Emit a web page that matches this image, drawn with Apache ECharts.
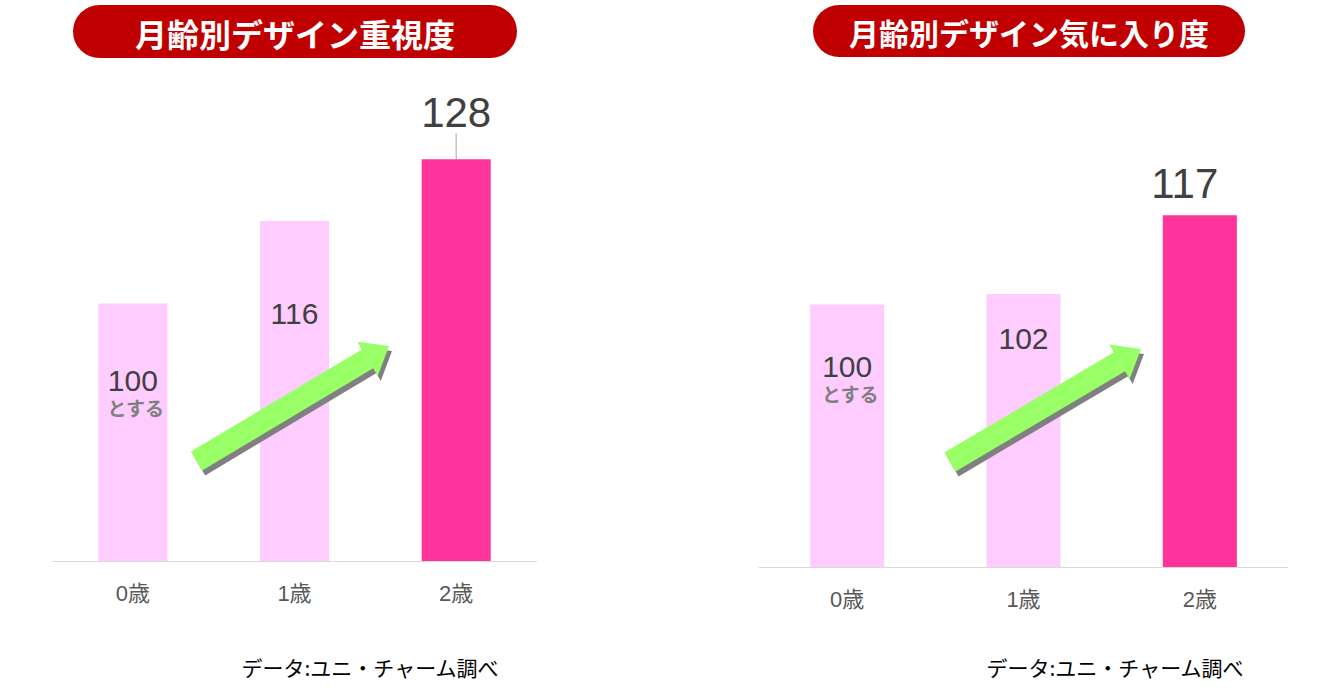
<!DOCTYPE html>
<html>
<head>
<meta charset="utf-8">
<style>
  html, body { margin: 0; padding: 0; background: #ffffff; }
  #chart { width: 1327px; height: 694px; }
</style>
<script src="https://cdn.jsdelivr.net/npm/echarts@6/dist/echarts.min.js"></script>
</head>
<body>
<div id="chart"></div>
<script>
// Age groups and index values (0歳 = 100)
const categories = ['0歳', '1歳', '2歳'];
const importanceValues = [100, 116, 128];   // デザイン重視度
const favorValues = [100, 102, 117];        // デザイン気に入り度
const titles = ['月齢別デザイン重視度', '月齢別デザイン気に入り度'];
const baseNote = 'とする';
const sourceNote = 'データ:ユニ・チャーム調べ';

const LIGHT = '#ffccff';
const HOT = '#ff3399';
const NUM_FONT = '"Liberation Sans", Arial, "Noto Sans CJK JP", sans-serif';
const JP_FONT = '"Noto Sans CJK JP", "Liberation Sans", sans-serif';

const barColors = [LIGHT, LIGHT, HOT];

const chart = echarts.init(document.getElementById('chart'), null, { renderer: 'svg' });

const rich = {
  v: { fontSize: 30, lineHeight: 30, color: '#404040', fontFamily: NUM_FONT },
  s: { fontSize: 19, lineHeight: 24, color: '#808080', fontWeight: 'bold', fontFamily: JP_FONT, padding: [0, 0, 0, 6] },
  big: { fontSize: 42, lineHeight: 40, color: '#404040', fontFamily: NUM_FONT }
};

// label placement per bar: position, inset/distance, horizontal shift
function buildData(values, placement) {
  return values.map((v, i) => {
    const p = placement[i];
    let fmt;
    if (i === 0) fmt = '{v|' + v + '}\n{s|' + baseNote + '}';
    else if (p.big) fmt = '{big|' + v + '}';
    else fmt = '{v|' + v + '}';
    const item = {
      value: v,
      itemStyle: { color: barColors[i] },
      label: {
        show: true,
        position: p.pos,
        distance: p.dist,
        offset: [p.dx || 0, 0],
        formatter: fmt,
        rich: rich
      }
    };
    if (p.line) {
      item.labelLine = { show: true, lineStyle: { color: '#a6a6a6', width: 1 } };
    }
    return item;
  });
}

// thick arrow polygon from tail centre to tip
function arrowPoints(tail, tip, shaftW, headW, headL) {
  const dx = tip[0] - tail[0], dy = tip[1] - tail[1];
  const len = Math.sqrt(dx * dx + dy * dy);
  const ux = dx / len, uy = dy / len;
  const nx = -uy, ny = ux;
  const bx = tip[0] - ux * headL, by = tip[1] - uy * headL;
  const s = shaftW / 2, h = headW / 2;
  return [
    [tail[0] + nx * s, tail[1] + ny * s],
    [bx + nx * s, by + ny * s],
    [bx + nx * h, by + ny * h],
    [tip[0], tip[1]],
    [bx - nx * h, by - ny * h],
    [bx - nx * s, by - ny * s],
    [tail[0] - nx * s, tail[1] - ny * s]
  ];
}

function arrow(tail, tip) {
  const pts = arrowPoints(tail, tip, 22, 40, 25);
  const shadow = pts.map(p => [p[0] + 3, p[1] + 5]);
  return [
    { type: 'polygon', z: 100, shape: { points: shadow }, style: { fill: '#808080' }, silent: true },
    { type: 'polygon', z: 101, shape: { points: pts }, style: { fill: '#99ff66' }, silent: true }
  ];
}

function pill(x, y, w, h, text, size) {
  return [
    { type: 'rect', z: 100, shape: { x: x, y: y, width: w, height: h, r: h / 2 }, style: { fill: '#c00000' } },
    { type: 'text', z: 101, style: {
        x: x + w / 2, y: y + h / 2 + 1, text: text, align: 'center', verticalAlign: 'middle',
        fill: '#ffffff', font: 'bold ' + size + 'px ' + JP_FONT } }
  ];
}

function note(x, y) {
  return { type: 'text', z: 101, style: {
    x: x, y: y, text: sourceNote, align: 'center', verticalAlign: 'middle',
    fill: '#000000', font: '21px ' + JP_FONT } };
}

const axisX = (gridIndex) => ({
  type: 'category',
  gridIndex: gridIndex,
  data: categories,
  axisLine: { lineStyle: { color: '#d9d9d9', width: 1 } },
  axisTick: { show: false },
  axisLabel: { color: '#595959', fontSize: 22, margin: 21, fontFamily: NUM_FONT }
});

const axisY = (gridIndex) => ({
  type: 'value',
  gridIndex: gridIndex,
  min: 50,
  max: 150,
  show: false,
  splitLine: { show: false }
});

chart.setOption({
  animation: false,
  backgroundColor: '#ffffff',
  grid: [
    { left: 52, width: 485, top: 46, bottom: 133 },
    { left: 759, width: 529, top: 42, bottom: 127 }
  ],
  xAxis: [axisX(0), axisX(1)],
  yAxis: [axisY(0), axisY(1)],
  series: [
    {
      type: 'bar',
      xAxisIndex: 0,
      yAxisIndex: 0,
      barWidth: '42.7%',
      data: buildData(importanceValues, [
        { pos: 'insideTop', dist: 62 },
        { pos: 'insideTop', dist: 77 },
        { pos: 'top', dist: 5, big: true, line: true }
      ]),
      labelLayout: function (params) {
        return params.dataIndex === 2 ? { dy: -22 } : {};
      }
    },
    {
      type: 'bar',
      xAxisIndex: 1,
      yAxisIndex: 1,
      barWidth: '42%',
      data: buildData(favorValues, [
        { pos: 'insideTop', dist: 47 },
        { pos: 'insideTop', dist: 29 },
        { pos: 'top', dist: 12, dx: -15, big: true }
      ])
    }
  ],
  graphic: [].concat(
    pill(73, 5, 444, 53, titles[0], 32),
    pill(813, 5, 432, 52, titles[1], 30),
    arrow([196.5, 461], [389, 346]),
    arrow([950, 462], [1141, 349]),
    [note(370, 667), note(1115, 667)]
  )
});
</script>
</body>
</html>
